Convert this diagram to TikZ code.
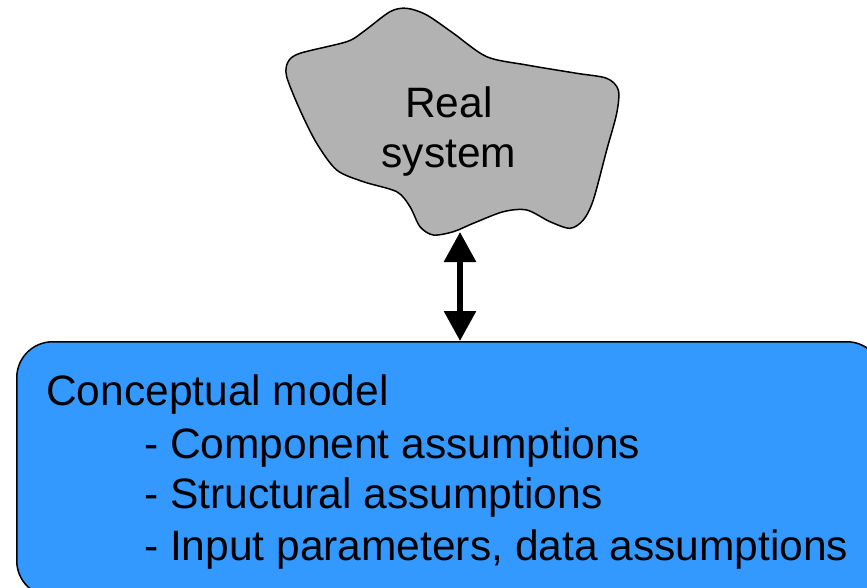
\documentclass[tikz,border=0pt]{standalone}
\usepackage{fontspec}
\setmainfont{Liberation Sans}
\usetikzlibrary{arrows.meta}
\definecolor{cloudgray}{RGB}{178,178,178}
\definecolor{modelblue}{RGB}{51,153,255}
\begin{document}
\begin{tikzpicture}[x=1pt,y=-1pt,
  font=\fontsize{42.5}{51}\selectfont,
  lbl/.style={inner sep=0pt, anchor=base west},
  clbl/.style={inner sep=0pt, anchor=base},
  outline/.style={draw=black, line width=1.5pt},
  dblarrow/.style={line width=6pt,
    arrows={Triangle[width=31pt 0 0,length=30pt 0 0]-Triangle[width=31pt 0 0,length=30pt 0 0]}}]
\useasboundingbox (0,0) rectangle (867,587);
\clip (0,0) rectangle (867,587);
% real system cloud
\path[outline, fill=cloudgray] plot[smooth cycle, tension=0.5] coordinates {
 (288,62) (300,53.3) (346.7,41.7) (363.3,31.7) (390,11.7) (406.7,8.3)
 (426.7,15) (453,33) (486.7,56.7) (526.7,65) (576.7,73.3) (606.7,78.3)
 (618.3,90) (616.7,113.3) (606.7,150) (593.3,200) (583.3,220) (570,228.3)
 (550,221.7) (526.7,210) (503.3,211.7) (473.3,223.3) (453.3,231.7)
 (433.3,235) (420,226.7) (410,206.7) (396.7,191.7) (363.3,181.7)
 (336.7,170) (316.7,143.3) (300,110) (286.7,76.7)};
\node[clbl] (real1) at (449,117) {Real};
\node[clbl] (real2) at (449,167) {system};
% conceptual model box
\node[outline, fill=modelblue, rounded corners=36pt, minimum width=866pt,
      minimum height=255pt, inner sep=0pt, anchor=north west] (model) at (16,341) {};
\node[lbl] (title) at (46,405) {Conceptual model};
\node[lbl] (item1) at (144,458) {- Component assumptions};
\node[lbl] (item2) at (144,508) {- Structural assumptions};
\node[lbl] (item3) at (144,560) {- Input parameters, data assumptions};
% arrow
\coordinate (sysbottom) at (460,232);
\draw[dblarrow] (sysbottom) -- (sysbottom |- model.north);
\end{tikzpicture}
\end{document}
